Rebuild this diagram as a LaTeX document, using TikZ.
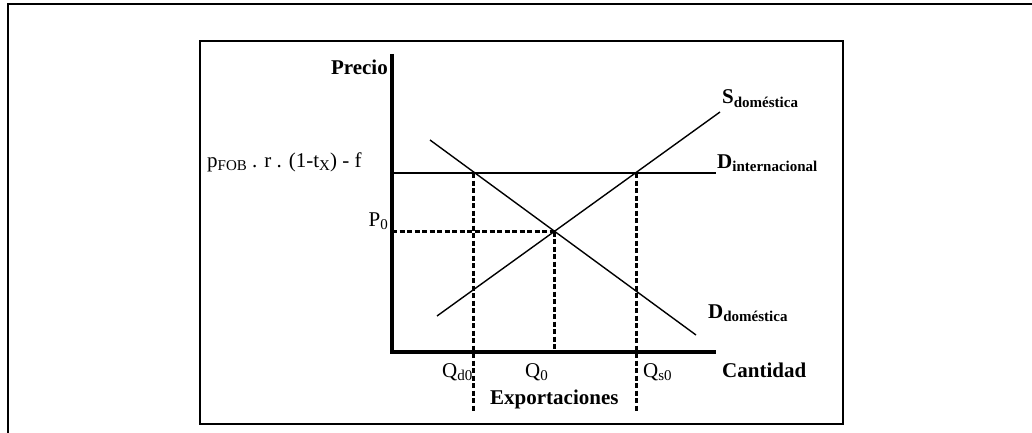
\documentclass[tikz,border=0pt]{standalone}
\usepackage{fontspec}
\setmainfont{Liberation Serif}
\usetikzlibrary{positioning}
\newcommand\lowsub[1]{\raisebox{-3pt}{\fontsize{15}{16}\selectfont #1}}

\begin{document}
\begin{tikzpicture}[
    x=1pt, y=-1pt,
    frame/.style = {draw, line width=1.6pt},
    axis/.style = {draw, line width=3.5pt},
    curve/.style = {draw, line width=1.4pt},
    guide/.style = {draw, line width=2.2pt, dash pattern=on 5pt off 2.5pt},
    lbl/.style = {inner sep=0pt, font=\fontsize{21}{24}\selectfont},
    blbl/.style = {inner sep=0pt, font=\fontsize{21}{24}\selectfont\bfseries}]
\useasboundingbox (0,0) rectangle (1032,433);

  % frames
  \draw[frame, line width=2pt] (1032,4) -- (8,4) -- (8,433);
  \draw[frame] (200,41) rectangle (843,424);

  % points
  \coordinate (O) at (392,352);
  \coordinate (Ytop) at (392,54);
  \coordinate (Xend) at (716,352);
  \coordinate (Pint) at (392,173);
  \coordinate (Pint1) at (716,173);
  \coordinate (Eq) at (554.5,231.5);
  \coordinate (Peq) at (392,231.5);
  \coordinate (Qeq) at (554.5,352);
  \coordinate (Dd0) at (430,140);
  \coordinate (Dd1) at (696,335);
  \coordinate (Sd0) at (437,316);
  \coordinate (Sd1) at (720,112);
  \coordinate (Qd) at (473.5,173);
  \coordinate (Qd1) at (473.5,412);
  \coordinate (Qs) at (636.5,173);
  \coordinate (Qs1) at (636.5,412);

  % labels
  \node[blbl, anchor=base east] (precio) at (388,75) {Precio};
  \node[lbl, anchor=base west] (pfob) at (207,167) {p\lowsub{FOB} . r . (1-t\lowsub{X}) - f};
  \node[lbl, anchor=base east] (p0) at (388,226) {P\lowsub{0}};
  \node[lbl, anchor=base west] (qd0) at (442,377) {Q\lowsub{d0}};
  \node[lbl, anchor=base west] (q0) at (525,377) {Q\lowsub{0}};
  \node[lbl, anchor=base west] (qs0) at (643,377) {Q\lowsub{s0}};
  \node[blbl, anchor=base west] (cant) at (722,377) {Cantidad};
  \node[blbl, anchor=base west] (expo) at (490,404) {Exportaciones};
  \node[blbl, anchor=base west] (sdom) at (722,104) {S\lowsub{doméstica}};
  \node[blbl, anchor=base west] (dint) at (717,168) {D\lowsub{internacional}};
  \node[blbl, anchor=base west] (ddom) at (708,318) {D\lowsub{doméstica}};

  % curves
  \draw[curve] (Pint) -- (Pint1);
  \draw[curve] (Dd0) -- (Dd1);
  \draw[curve] (Sd0) -- (Sd1);
  \draw[guide] (Peq) -- (Eq);
  \draw[guide] (Eq) -- (Qeq);
  \draw[guide] (Qd) -- (Qd1);
  \draw[guide] (Qs) -- (Qs1);

  % axes
  \draw[axis] (Ytop) -- (O) -- (Xend);
\end{tikzpicture}
\end{document}
